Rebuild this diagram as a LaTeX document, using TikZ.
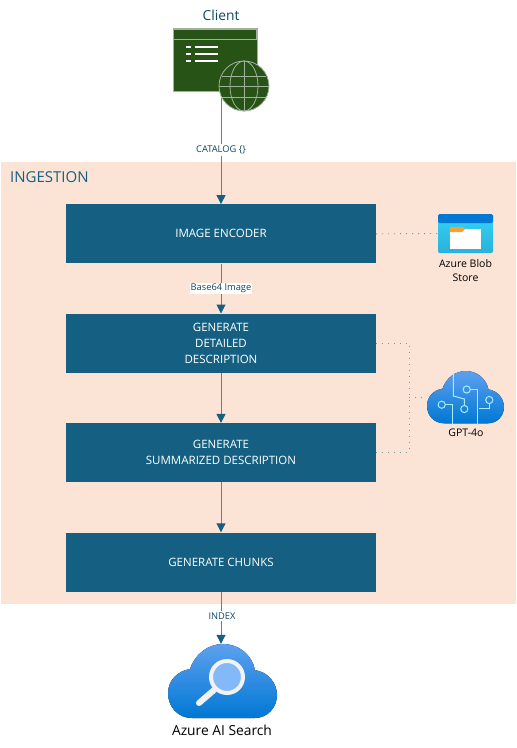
\documentclass[tikz,border=0pt]{standalone}
\usepackage{fontspec}
\setmainfont{Open Sans}
\usetikzlibrary{arrows.meta, positioning}
\definecolor{boxblue}{HTML}{156082}
\definecolor{panelpink}{HTML}{FBE3D6}
\definecolor{darkgreen}{HTML}{275317}
\definecolor{greenline}{HTML}{A3B09B}
\definecolor{dotline}{HTML}{7C97A6}
\definecolor{labelblue}{HTML}{0E4761}
\definecolor{circuitline}{HTML}{A6EEFF}
\definecolor{cloudtop}{HTML}{5EA0EF}
\definecolor{cloudbottom}{HTML}{0078D4}
\definecolor{blobtop}{HTML}{32D4F5}
\definecolor{blobbottom}{HTML}{2BB0DC}
\definecolor{blobband}{HTML}{0078D4}
\definecolor{foldertab}{HTML}{F7A12F}
\definecolor{searchhandle}{HTML}{F2F2F2}
\definecolor{lensblue}{HTML}{83B9F9}
\tikzset{
	stagebox/.style={fill=boxblue, text=white, minimum width=310pt, minimum height=59pt, inner sep=0pt, align=center, font=\fontsize{11.5}{16}\selectfont},
	flowline/.style={draw=boxblue!75, line width=1pt, -{Triangle[length=9pt, width=9pt, color=boxblue]}},
	dotlink/.style={draw=dotline, line width=0.9pt, dash pattern=on 1pt off 5pt},
	linelabel/.style={fill=white, text=labelblue, inner xsep=1pt, inner ysep=1.5pt, font=\fontsize{9.3}{11}\selectfont},
	iconlabel/.style={text=black, inner sep=0pt, align=center, font=\fontsize{10.5}{14}\selectfont},
	iconspot/.style={inner sep=0pt},
	azcloud/.pic={
		\fill[top color=cloudtop, bottom color=cloudbottom] (24,74) .. controls (10,74) and (0,63) .. (0,49) .. controls (0,37) and (9,27) .. (22,25) .. controls (27,10) and (40,0) .. (55,0) .. controls (71,0) and (84,11) .. (87,26) .. controls (100,28) and (109,39) .. (109,51) .. controls (109,64) and (99,74) .. (87,74) -- cycle;
	}
}
\begin{document}
\begin{tikzpicture}[x=1pt, y=-1pt]
		\useasboundingbox (0,0) rectangle (517,748);
		\node (ingestion) [fill=panelpink, minimum width=515pt, minimum height=442pt, inner sep=0pt] at (258.5,382.7) {};
		\node (ingestlabel) [anchor=west, inner sep=0pt, text=boxblue, font=\fontsize{15}{18}\selectfont] at (10,177) {INGESTION};

		\node (encoder) [stagebox] at (221,233.8) {IMAGE ENCODER};
		\node (detail) [stagebox, below=50pt of encoder] {GENERATE\\DETAILED\\DESCRIPTION};
		\node (summary) [stagebox, below=50pt of detail] {GENERATE\\SUMMARIZED DESCRIPTION};
		\node (chunks) [stagebox, below=50pt of summary] {GENERATE CHUNKS};

		\node (client) [fill=darkgreen, draw=greenline, line width=0.8pt, minimum width=84pt, minimum height=63pt, inner sep=0pt] at (215,59.5) {};
		\node (clienttext) [iconlabel, text=labelblue, font=\fontsize{13.8}{16}\selectfont] at (221,15) {Client};
		\coordinate (clientout) at (221,98);
		\node (blob) [iconspot, minimum width=55pt, minimum height=39pt] at (465.5,233.5) {};
		\node (gpt) [iconspot, minimum width=77pt, minimum height=53pt] at (465.5,397.5) {};
		\node (search) [iconspot, minimum width=109pt, minimum height=74pt] at (222.5,681) {};
		\coordinate (gptjoin) at (409,397.5);

		\draw[flowline] (clientout) -- (encoder.north);
		\draw[flowline] (encoder.south) -- (detail.north);
		\draw[flowline] (detail.south) -- (summary.north);
		\draw[flowline] (summary.south) -- (chunks.north);
		\draw[flowline] (chunks.south) -- (chunks.south |- search.north);
		\draw[dotlink] (encoder.east) -- (blob.west);
		\draw[dotlink] (detail.east) -| (gptjoin) |- (summary.east);
		\draw[dotlink] (gptjoin) -- (gpt.west);

		\node (catalog) [linelabel] at (221,150) {CATALOG \{\}};
		\node (base) [linelabel] at (221,288.5) {Base64 Image};
		\node (indexlabel) [linelabel] at (222,616) {INDEX};

		\fill[darkgreen, draw=greenline, line width=0.8pt] (173.5,29) rectangle (256.5,39);
		\foreach \y in {47,54,61} {
			\fill[white] (186,\y-1) rectangle (191,\y+1);
			\fill[white] (195,\y-1) rectangle (218,\y+1);
		}
		\fill[darkgreen, draw=greenline, line width=0.8pt] (244,86) circle [radius=25];
		\draw[greenline, line width=0.8pt] (244,86) ellipse [x radius=14, y radius=25];
		\draw[greenline, line width=0.8pt] (244,61) -- (244,111);
		\draw[greenline, line width=0.8pt] (219,86) -- (269,86);
		\draw[greenline, line width=0.8pt] (222,76) -- (266,76);
		\draw[greenline, line width=0.8pt] (222,97) -- (266,97);

		\shade[rounded corners=1.5pt, top color=blobtop, bottom color=blobbottom] (438,214) rectangle (493,253);
		\fill[rounded corners=1.5pt, blobband] (438,214) rectangle (493,223);
		\fill[white] (450,229) rectangle (481,249);
		\fill[foldertab] (450,227) -- (463,227) -- (465,229) -- (462,232) -- (450,232) -- cycle;
		\node (blobtext) [iconlabel, below=6pt of blob] {Azure Blob\\Store};

		\pic[scale=0.706] at (427,371) {azcloud};
		\draw[circuitline, line width=1pt] (453.3,373) -- (453.3,396) -- (464.3,399) -- (464.3,405);
		\draw[circuitline, line width=1pt] (470,389.5) -- (477.7,389.5) -- (477.7,424.5);
		\draw[circuitline, line width=1pt] (445,404.7) -- (452.3,404.7) -- (452.3,424.5);
		\draw[circuitline, line width=1pt] (489.3,403.5) -- (489.3,408.3) -- (478.7,408.3);
		\draw[circuitline, line width=1pt] (464.3,409) circle [radius=3.6];
		\draw[circuitline, line width=1pt] (466.7,389.5) circle [radius=3.6];
		\draw[circuitline, line width=1pt] (441.7,404.7) circle [radius=3.6];
		\draw[circuitline, line width=1pt] (489.3,400) circle [radius=3.6];
		\node (gpttext) [iconlabel] at (466,432.5) {GPT-4o};

		\pic at (168,644) {azcloud};
		\draw[searchhandle, line width=6pt, line cap=round] (214,690) -- (199,703);
		\fill[lensblue, draw=searchhandle, line width=4pt] (227,677) circle [radius=16];
		\node (searchtext) [iconlabel, font=\fontsize{13.8}{16}\selectfont] at (222,730) {Azure AI Search};
	\end{tikzpicture}
\end{document}
